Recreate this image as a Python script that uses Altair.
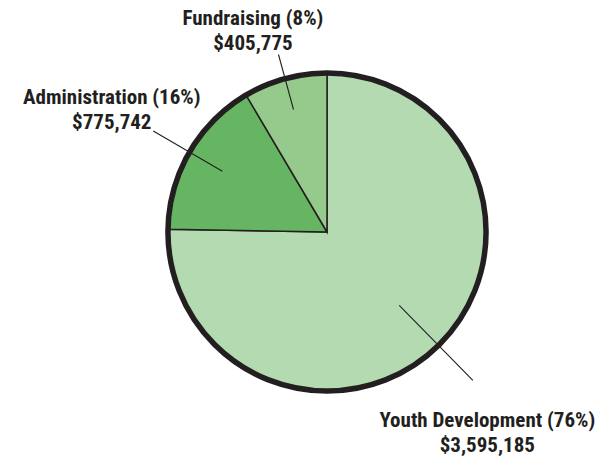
import altair as alt
import pandas as pd

categories = ["Youth Development", "Administration", "Fundraising"]
amounts = [3595185, 775742, 405775]
percents = [76, 16, 8]
colors = ["#b3dab1", "#66b562", "#95ca8c"]

df = pd.DataFrame({"category": categories, "amount": amounts, "pct": percents,
                   "order": list(range(len(categories)))})
df["mid"] = df["amount"].cumsum() - df["amount"] / 2

INK = "#231f20"
FONT = "Roboto Condensed, Arial Narrow, Liberation Sans Narrow, Nimbus Sans Narrow, DejaVu Sans Condensed, sans-serif"

base = alt.Chart(df)

pie = base.mark_arc(radius=159, stroke=INK, strokeWidth=1.5).encode(
    theta=alt.Theta("amount:Q", stack=True),
    color=alt.Color("category:N", scale=alt.Scale(domain=categories, range=colors), legend=None),
    order=alt.Order("order:Q"),
)

outline = alt.Chart(pd.DataFrame({"k": [0]})).mark_arc(
    radius=159, theta=0, theta2=6.2832, fillOpacity=0, strokeWidth=5.5
).encode(stroke=alt.value(INK))

# per-label layout: (leader inner r, leader outer r, label radius, dx, dy)
layout = {
    "Youth Development": (103, 208, 250, -15, 11),
    "Administration": (121, 201, 249, 0, -9),
    "Fundraising": (127, 184, 205, -20, -15),
}

layers = [pie, outline]
for cat, (r1, r2, rl, dx, dy) in layout.items():
    sub = base.transform_filter(alt.datum.category == cat)
    leader = sub.mark_arc(radius=r1, radius2=r2, stroke=INK, strokeWidth=1.1, fillOpacity=0).encode(
        theta=alt.Theta("mid:Q", stack=None),
        theta2=alt.Theta2("mid"),
    )
    label = sub.transform_calculate(
        label="[datum.category + ' (' + datum.pct + '%)', '$' + format(datum.amount, ',')]"
    ).mark_text(
        radius=rl, dx=dx, dy=dy, font=FONT, fontSize=21, fontWeight="bold",
        color=INK, align="center", baseline="middle", lineHeight=25,
    ).encode(
        theta=alt.Theta("mid:Q", stack=None),
        text="label:N",
    )
    layers += [leader, label]

chart = alt.layer(*layers).properties(
    width=558, height=416,
    padding={"left": 40, "top": 16, "right": 0, "bottom": 25},
    autosize=alt.AutoSizeParams(type="none"),
).configure_view(stroke=None)

chart.save("out.html", embed_options={"renderer": "svg", "actions": False})
